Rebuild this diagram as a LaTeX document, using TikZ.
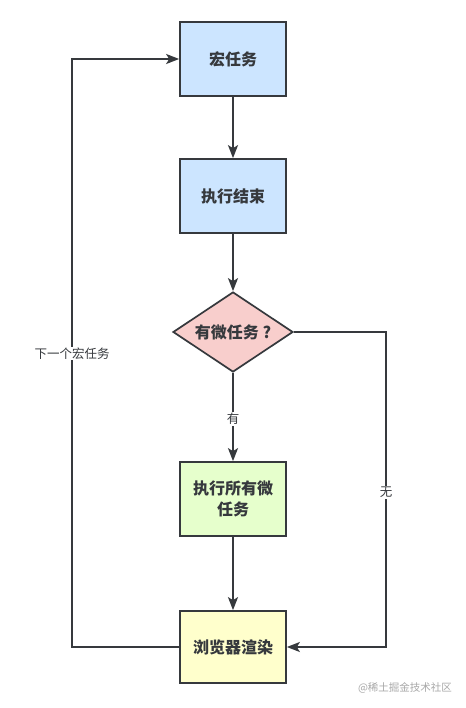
\documentclass[tikz,border=0pt]{standalone}
\usepackage{fontspec}
\setmainfont{Noto Sans CJK SC}
\usetikzlibrary{shapes.geometric,arrows.meta}
\definecolor{bluefill}{HTML}{CCE5FF}
\definecolor{pinkfill}{HTML}{F8CECC}
\definecolor{greenfill}{HTML}{E6FFCC}
\definecolor{yellowfill}{HTML}{FFFFCC}
\definecolor{edge}{HTML}{36393D}
\definecolor{wm}{HTML}{A8A8A8}
\tikzset{
  box/.style={draw=edge, line width=1.7pt, minimum width=106pt, minimum height=74pt, inner sep=0pt, align=center, font=\fontsize{16}{21}\selectfont\bfseries, text=edge},
  decision/.style={draw=edge, line width=1.7pt, diamond, aspect=1.5, minimum width=120pt, minimum height=80pt, inner sep=0pt, font=\fontsize{16}{21}\selectfont\bfseries, text=edge, fill=pinkfill},
  conn/.style={draw=edge, line width=1.7pt, -{Stealth[length=13pt,width=10pt,inset=3pt]}},
  lbl/.style={fill=white, inner sep=1pt, font=\fontsize{12.5}{14}\selectfont, text=edge}
}
\begin{document}
\begin{tikzpicture}[x=1pt,y=-1pt]
\useasboundingbox (0,0) rectangle (465,708);
\fill[white] (0,0) rectangle (465,708);
\node[box, fill=bluefill] (macro) at (233,59) {宏任务};
\node[box, fill=bluefill] (done) at (233,196) {执行结束};
\node[decision] (has) at (233,332) {有微任务 ?};
\node[box, fill=greenfill] (micro) at (233,499) {执行所有微\\任务};
\node[box, fill=yellowfill, minimum height=72pt] (render) at (233,647) {浏览器渲染};
\coordinate (lb) at (72,647);
\coordinate (lt) at (72,59);
\coordinate (rt) at (386,332);
\coordinate (rb) at (386,647);
\draw[conn] (macro) -- (done);
\draw[conn] (done) -- (has);
\draw[conn] (has) -- node[lbl, pos=0.52] (yes) {有} (micro);
\draw[conn] (micro) -- (render);
\draw[conn] (has.east) -- (rt) -- node[lbl, pos=0.51] (no) {无} (rb) -- (render.east);
\draw[conn] (render.west) -- (lb) -- node[lbl, pos=0.499] (next) {下一个宏任务} (lt) -- (macro.west);
\node[font=\fontsize{10.5}{12}\selectfont, text=wm] (mark) at (405,688) {@稀土掘金技术社区};
\end{tikzpicture}
\end{document}
